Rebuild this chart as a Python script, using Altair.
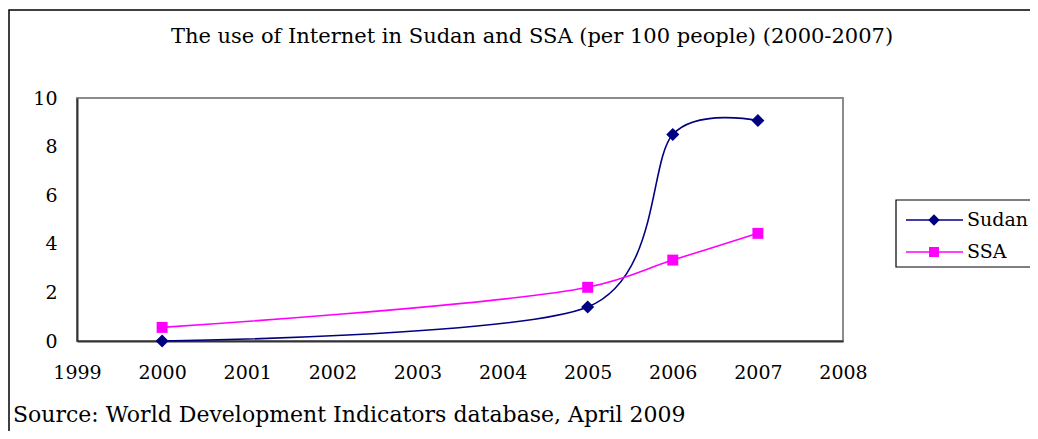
import altair as alt
import pandas as pd

years = [2000, 2005, 2006, 2007]
sudan = [0.0, 1.40, 8.50, 9.07]
ssa = [0.56, 2.21, 3.33, 4.43]
series_names = ["Sudan", "SSA"]
series_colors = ["#000080", "#FF00FF"]
series_shapes = ["diamond", "square"]
series_sizes = [170, 120]
x_ticks = list(range(1999, 2009))
y_ticks = [0, 2, 4, 6, 8, 10]

title_text = "The use of Internet in Sudan and SSA (per 100 people) (2000-2007)"
source_text = "Source: World Development Indicators database, April 2009"

rows = []
for name, vals in zip(series_names, [sudan, ssa]):
    for yr, v in zip(years, vals):
        rows.append({"year": yr, "value": v, "series": name})
df = pd.DataFrame(rows)

FONT = "DejaVu Serif"
W, H = 766, 243

x_enc = alt.X("year:Q", scale=alt.Scale(domain=[1999, 2008], nice=False),
              axis=alt.Axis(values=x_ticks, format="d", title=None, grid=False,
                            ticks=False, labelPadding=22, labelFont=FONT,
                            labelFontSize=19, labelColor="black",
                            domainColor="#333333", domainWidth=2, labelFlush=False))
y_enc = alt.Y("value:Q", scale=alt.Scale(domain=[0, 10], nice=False),
              axis=alt.Axis(values=y_ticks, title=None, grid=False, ticks=False,
                            labelPadding=20, labelFont=FONT, labelFontSize=19,
                            labelColor="black", domainColor="#333333", domainWidth=2))
color_enc = alt.Color("series:N", scale=alt.Scale(domain=series_names, range=series_colors),
                      legend=None)
shape_enc = alt.Shape("series:N", scale=alt.Scale(domain=series_names, range=series_shapes),
                      legend=None)
size_enc = alt.Size("series:N", scale=alt.Scale(domain=series_names, range=series_sizes),
                    legend=None)

base = alt.Chart(df)
line_sudan = base.transform_filter(alt.datum.series == "Sudan").mark_line(
    interpolate="cardinal", tension=0.15, strokeWidth=1.6).encode(
    x=x_enc, y=y_enc, color=color_enc)
line_ssa = base.transform_filter(alt.datum.series == "SSA").mark_line(
    interpolate="catmull-rom", strokeWidth=1.6).encode(
    x="year:Q", y="value:Q", color=color_enc)
points = base.mark_point(filled=True, opacity=1).encode(
    x="year:Q", y="value:Q", color=color_enc, shape=shape_enc, size=size_enc)

one = pd.DataFrame({"k": [0]})
title_mark = alt.Chart(one).mark_text(font=FONT, fontSize=21, color="black",
                                      align="center", baseline="alphabetic").encode(
    x=alt.value(455), y=alt.value(-55), text=alt.value(title_text))
source_mark = alt.Chart(one).mark_text(font=FONT, fontSize=22, color="black",
                                       align="left", baseline="alphabetic").encode(
    x=alt.value(-64), y=alt.value(324), text=alt.value(source_text))

outer = alt.Chart(one).mark_rect(fill=None, stroke="black", strokeWidth=1.5).encode(
    x=alt.value(-68), x2=alt.value(1200), y=alt.value(-88), y2=alt.value(600))

leg_box = alt.Chart(one).mark_rect(fill="white", stroke="black", strokeWidth=1.2).encode(
    x=alt.value(819), x2=alt.value(1000), y=alt.value(102), y2=alt.value(169))

leg_layers = []
for i, (name, col, shp) in enumerate(zip(series_names, series_colors, series_shapes)):
    yy = 122 + i * 32
    leg_layers.append(alt.Chart(one).mark_rule(color=col, strokeWidth=1.6).encode(
        x=alt.value(829), x2=alt.value(886), y=alt.value(yy)))
    leg_layers.append(alt.Chart(one).mark_point(filled=True, opacity=1,
                                                size=130 if shp == "diamond" else 100,
                                                color=col, shape=shp).encode(
        x=alt.value(857), y=alt.value(yy)))
    leg_layers.append(alt.Chart(one).mark_text(font=FONT, fontSize=19, color="black",
                                               align="left", baseline="middle").encode(
        x=alt.value(890), y=alt.value(yy), text=alt.value(name)))

chart = alt.layer(outer, line_sudan, line_ssa, points, title_mark, source_mark,
                  leg_box, *leg_layers).properties(
    width=W, height=H,
    padding={"left": 69, "top": 90, "right": 187, "bottom": 90},
    autosize=alt.AutoSizeParams(type="none"),
    background="white",
).configure_view(stroke="#8c8c8c", strokeWidth=2)

chart.save("out.html", embed_options={"renderer": "svg", "actions": False})
